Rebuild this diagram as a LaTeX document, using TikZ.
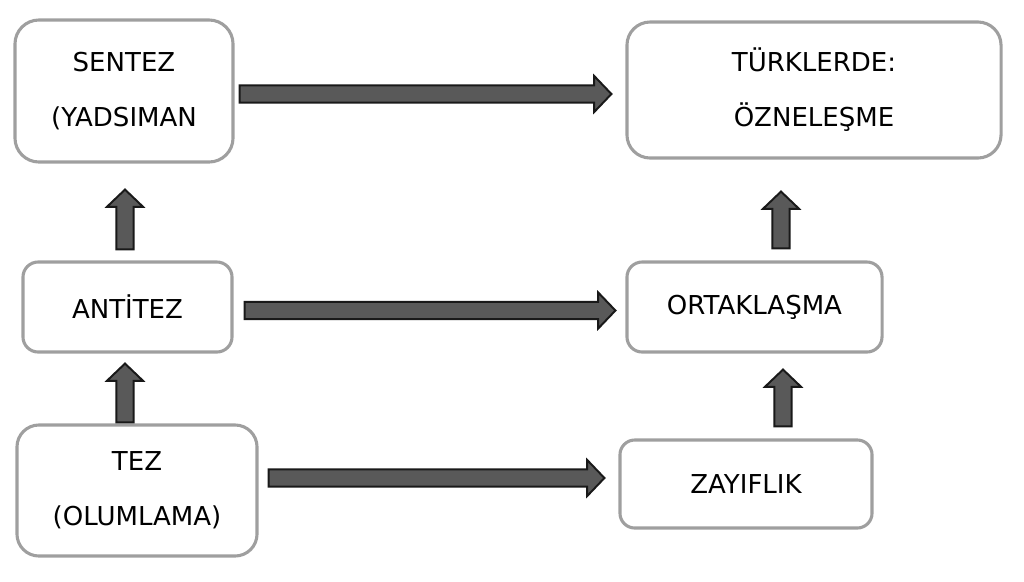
\documentclass[tikz,border=0pt]{standalone}
\usepackage{fontspec}
\setmainfont{DejaVu Sans}
\usetikzlibrary{calc}

% block arrow from #1 to #2 (tip at #2)
\newcommand{\blockarr}[2]{%
  \coordinate (ba-s) at (#1);
  \coordinate (ba-e) at (#2);
  \coordinate (ba-h) at ($(ba-e)!0.43cm!(ba-s)$);
  \draw[blockarrow] ($(ba-s)!0.215cm!90:(ba-e)$) -- ($(ba-h)!0.215cm!-90:(ba-s)$)
    -- ($(ba-h)!0.45cm!-90:(ba-s)$) -- (ba-e) -- ($(ba-h)!0.45cm!90:(ba-s)$)
    -- ($(ba-h)!0.215cm!90:(ba-s)$) -- ($(ba-s)!0.215cm!-90:(ba-e)$) -- cycle;
}

\begin{document}
\begin{tikzpicture}[x=0.025cm, y=-0.025cm,
  every node/.style={font=\fontsize{18.5}{39}\selectfont},
  box/.style={draw=gray!75, line width=2.2pt, fill=white, align=center, inner sep=0pt},
  blockarrow/.style={draw=black!90, line width=1.4pt, fill=black!65, line join=miter}]

  \useasboundingbox (0,0) rectangle (1024,581);

  \node[box, rounded corners=0.6cm, minimum width=5.45cm, minimum height=3.55cm] (sentez) at (124,91) {SENTEZ\\(YADSIMAN};
  \node[box, rounded corners=0.58cm, minimum width=9.35cm, minimum height=3.4cm] (turk) at (814,90) {TÜRKLERDE:\\ÖZNELEŞME};
  \node[box, rounded corners=0.38cm, minimum width=5.225cm, minimum height=2.25cm] (antitez) at (127.5,307) {ANTİTEZ};
  \node[box, rounded corners=0.38cm, minimum width=6.375cm, minimum height=2.25cm] (ortak) at (754.5,307) {ORTAKLAŞMA};
  \node[box, rounded corners=0.55cm, minimum width=6cm, minimum height=3.275cm] (tez) at (137,490.5) {TEZ\\(OLUMLAMA)};
  \node[box, rounded corners=0.37cm, minimum width=6.3cm, minimum height=2.2cm] (zayif) at (746,484) {ZAYIFLIK};

  % horizontal arrows
  \blockarr{$(sentez.east)+(5,3)$}{$(turk.west)+(-14,4)$}
  \blockarr{$(antitez.east)+(11,3.5)$}{$(ortak.west)+(-10,3.5)$}
  \blockarr{$(tez.east)+(10,-12.5)$}{$(zayif.west)+(-14,-6)$}

  % vertical arrows
  \blockarr{$(antitez.north)+(-2.5,-11)$}{$(sentez.south)+(1,26)$}
  \blockarr{$(tez.north)+(-12,-1)$}{$(antitez.south)+(-2.5,10)$}
  \blockarr{$(ortak.north)+(26.5,-12)$}{$(turk.south)+(-33,32)$}
  \blockarr{$(zayif.north)+(37,-12)$}{$(ortak.south)+(28.5,16)$}
\end{tikzpicture}
\end{document}
